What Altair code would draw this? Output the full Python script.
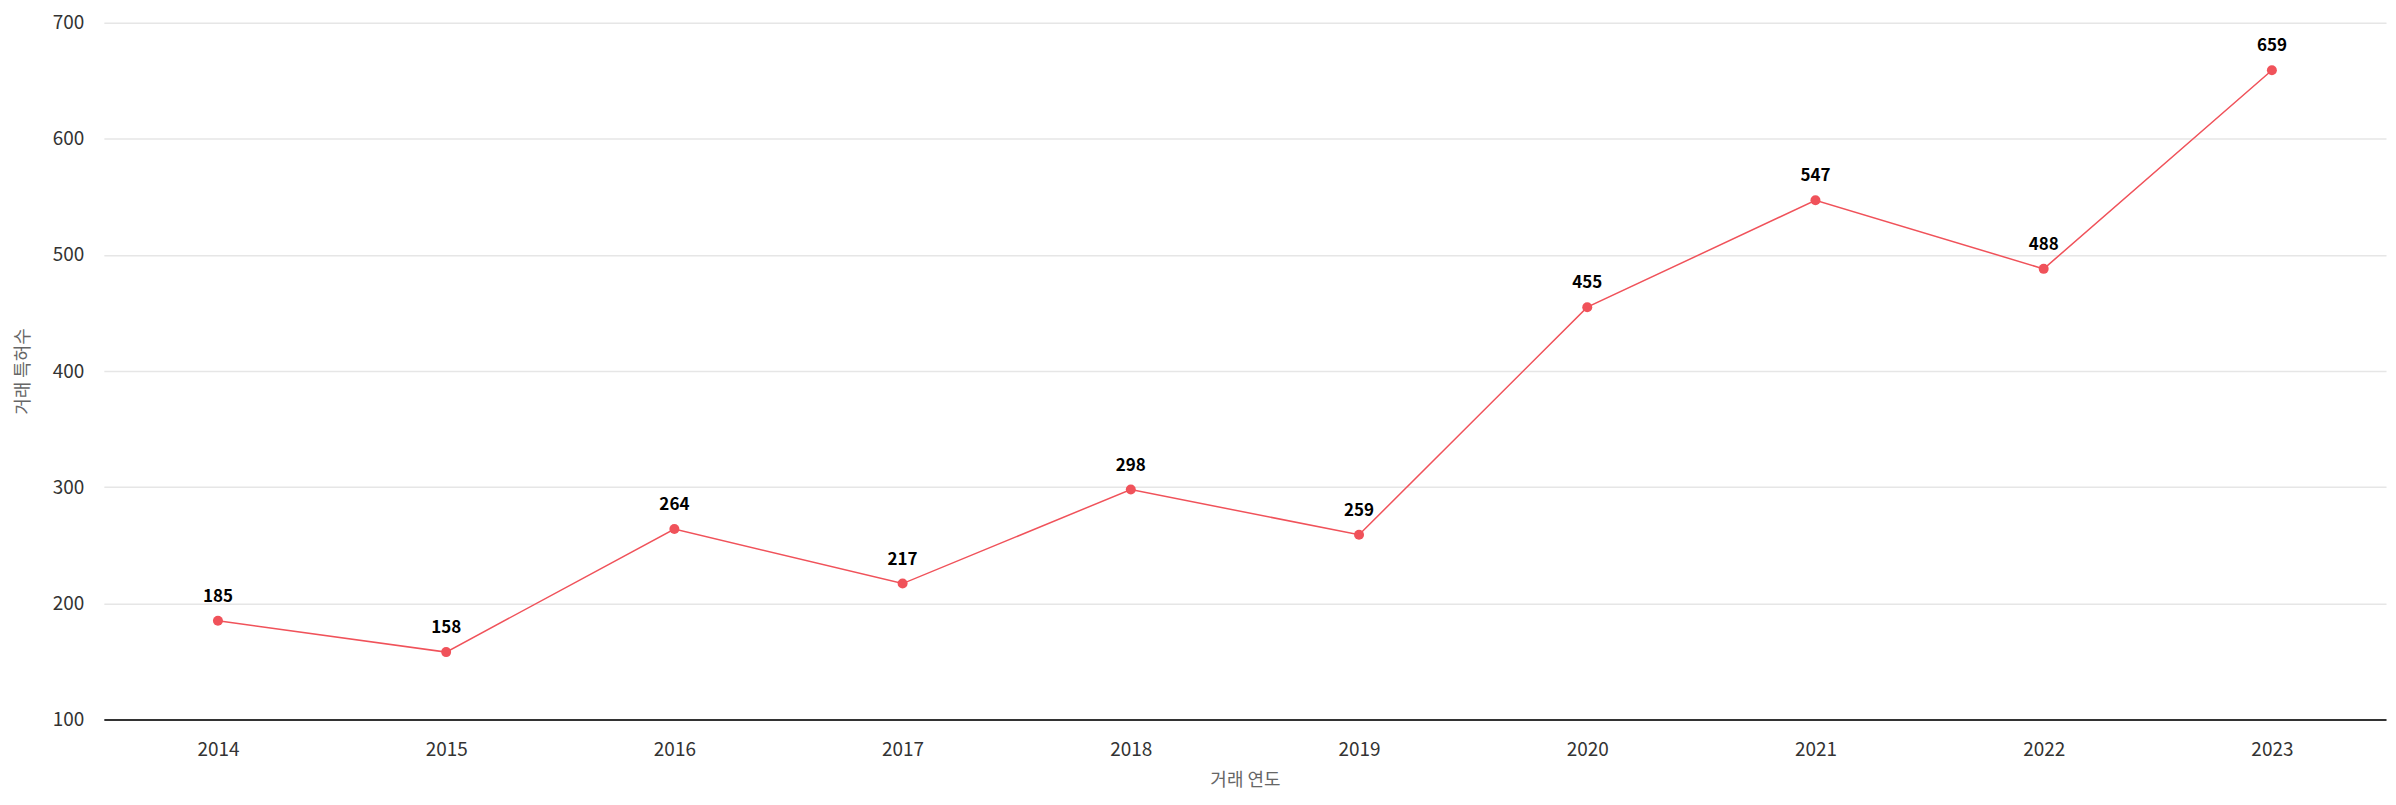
import altair as alt
import pandas as pd

years = ["2014", "2015", "2016", "2017", "2018", "2019", "2020", "2021", "2022", "2023"]
counts = [185, 158, 264, 217, 298, 259, 455, 547, 488, 659]
y_ticks = [100, 200, 300, 400, 500, 600, 700]

df = pd.DataFrame({"year": years, "count": counts})

FONT = "Noto Sans CJK KR"
RED = "#f0525a"

x = alt.X("year:N", sort=years,
          scale=alt.Scale(type="point", padding=0.5),
          axis=alt.Axis(title="거래 연도", labelAngle=0, labelFont=FONT, labelFontSize=19,
                        labelColor="#333333", labelPadding=21,
                        titleFont=FONT, titleFontSize=18, titleFontWeight="normal",
                        titleColor="#666666", titlePadding=12,
                        domainColor="#333333", domainWidth=2, ticks=False, grid=False))
y = alt.Y("count:Q", scale=alt.Scale(domain=[100, 700], nice=False, zero=False),
          axis=alt.Axis(title="거래 특허수", values=y_ticks, labelFont=FONT, labelFontSize=19,
                        labelColor="#333333", labelPadding=20,
                        titleFont=FONT, titleFontSize=18, titleFontWeight="normal",
                        titleColor="#666666", titlePadding=20,
                        domain=False, ticks=False, gridColor="#e6e6e6", gridWidth=1.5))

base = alt.Chart(df).encode(x=x, y=y)

line = base.mark_line(color=RED, strokeWidth=1.5)
points = base.mark_circle(color=RED, size=100, opacity=1)
labels = base.mark_text(dy=-24, font=FONT, fontSize=17, fontWeight="bold", color="#000000").encode(text="count:Q")

chart = (line + points + labels).properties(
    width=2286, height=698,
    autosize=alt.AutoSizeParams(type="none"),
    padding={"left": 96, "top": 14, "right": 2, "bottom": 76},
).configure_view(stroke=None)

chart.save("out.html", embed_options={"renderer": "svg", "actions": False})
